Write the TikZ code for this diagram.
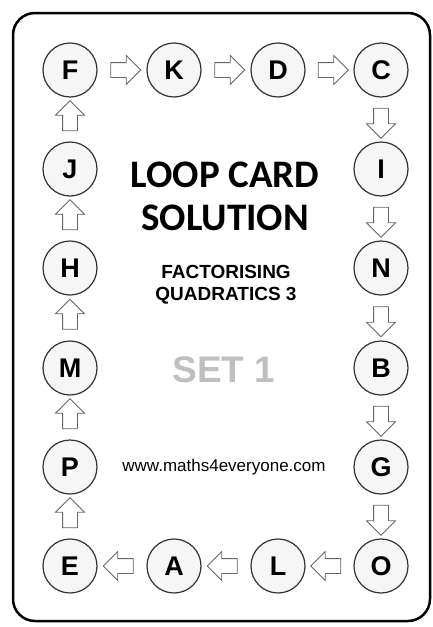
\documentclass[tikz,border=0pt]{standalone}
\usepackage{fontspec}
\setmainfont{Liberation Sans}
\newfontfamily\cardfont{Carlito}
\usepackage{tikz}
\usetikzlibrary{shapes.arrows, positioning, calc}

\begin{document}
\begin{tikzpicture}[x=1pt, y=1pt, node distance=99pt and 104pt, on grid]
\tikzstyle{card} = [circle, draw=black!80, fill=gray!7, line width=1.2pt, minimum size=54pt, inner sep=0pt, font=\fontsize{27}{28}\selectfont\bfseries]
\tikzstyle{blockarrow} = [single arrow, draw=black!60, fill=white, line width=0.8pt, minimum width=28pt, minimum height=30pt, single arrow head extend=7pt, inner sep=7pt]
\tikzstyle{title} = [anchor=base, font=\cardfont\fontsize{39}{40}\selectfont\bfseries]

\useasboundingbox (0,0) rectangle (433,-627);
\draw[line width=2.5pt, rounded corners=22pt] (13,-13) rectangle (430,-621);

% top row
\node (F) [card] at (70,-70) {F};
\node (K) [card, right=of F] {K};
\node (D) [card, right=of K] {D};
\node (C) [card, right=103pt of D] {C};
% right column
\node (I) [card, below=of C] {I};
\node (N) [card, below=of I] {N};
\node (B) [card, below=100pt of N] {B};
\node (G) [card, below=of B] {G};
\node (O) [card, below=of G] {O};
% left column
\node (J) [card, below=of F] {J};
\node (H) [card, below=of J] {H};
\node (M) [card, below=100pt of H] {M};
\node (P) [card, below=of M] {P};
\node (E) [card, below=of P] {E};
% bottom row
\node (A) [card, right=of E] {A};
\node (L) [card, right=of A] {L};

% texts
\node (loop) [title] at (225,-187) {LOOP CARD};
\node (sol) [title] at (225,-230) {SOLUTION};
\node (topic) [anchor=base, font=\fontsize{19}{20}\selectfont\bfseries] at (226,-278) {FACTORISING};
\node (topic2) [anchor=base, font=\fontsize{19}{20}\selectfont\bfseries] at (226,-300) {QUADRATICS 3};
\node (set) [anchor=base, text=black!25, font=\fontsize{37}{38}\selectfont\bfseries] at (224,-382) {SET 1};
\node (web) [anchor=base, font=\fontsize{17}{18}\selectfont] at (224,-471) {www.maths4everyone.com};

% loop arrows
\foreach \a/\b/\r in {F/K/0, K/D/0, D/C/0, C/I/270, I/N/270, N/B/270, B/G/270, G/O/270,
  O/L/180, L/A/180, A/E/180, E/P/90, P/M/90, M/H/90, H/J/90, J/F/90}
  \node [blockarrow, shape border rotate=\r] at ($(\a)!0.5!(\b)$) {};
\end{tikzpicture}
\end{document}
